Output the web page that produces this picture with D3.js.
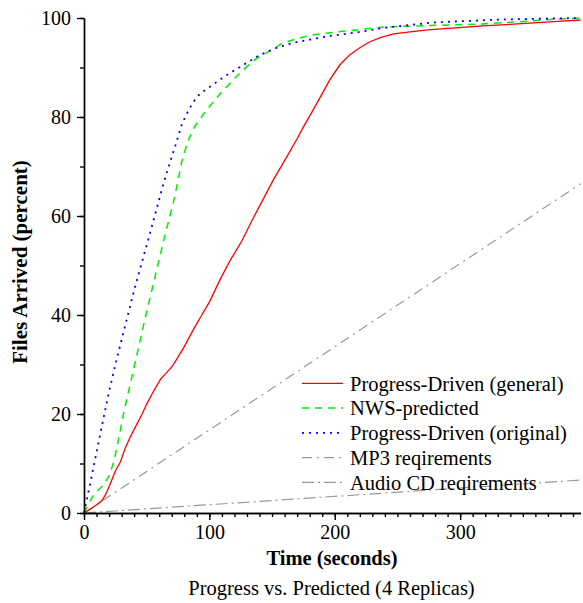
<!DOCTYPE html>
<html>
<head>
<meta charset="utf-8">
<script src="https://cdn.jsdelivr.net/npm/d3@7"></script>
<style>
  html, body { margin: 0; padding: 0; background: #fff; }
  svg { display: block; font-family: "Liberation Serif", "Times New Roman", serif; }
</style>
</head>
<body>
<svg id="chart" width="583" height="603"></svg>
<script>
// Tick values
const xMajorTicks = [0, 100, 200, 300];
const yMajorTicks = [0, 20, 40, 60, 80, 100];

// Series: [time (s), files arrived (%)]
const progressGeneral = [
  [0, 0], [4, 0.6], [8, 1.3], [12, 2.0], [14, 2.4], [17, 3.6], [20, 5.3], [25, 8.5],
  [29, 10.3], [33, 13.2], [37, 15.4], [41, 17.4], [46, 19.8], [50, 22.0], [55, 24.4],
  [61, 27.0], [66, 28.4], [70, 29.5], [74, 31.1], [80, 33.6], [88, 37.4], [93, 39.6],
  [100, 42.6], [109, 47.4], [117, 51.2], [126, 55.0], [133, 58.6], [140, 62.0],
  [151, 67.3], [160, 71.2], [170, 75.6], [175, 78.0], [182, 81.1], [188, 83.8],
  [196, 87.5], [204, 90.5], [212, 92.6], [220, 94.0], [228, 95.2], [237, 96.1],
  [247, 96.8], [260, 97.2], [274, 97.6], [296, 98.0], [318, 98.4], [340, 98.7],
  [358, 99.0], [378, 99.3], [396, 99.6]
];
const nwsPredicted = [
  [0, 0], [4, 2.0], [8, 3.8], [12, 4.8], [16, 5.8], [20, 7.5], [24, 10.5], [28, 15.5],
  [32, 20.6], [40, 29.5], [48, 38.5], [56, 47.0], [64, 55.5], [72, 63.5], [78, 71.0],
  [83, 75.2], [88.6, 78.2], [95.7, 80.7], [102.6, 82.9], [109, 84.8], [116.5, 86.8],
  [122, 88.3], [130, 90.2], [138, 91.9], [148, 93.3], [157, 94.7], [167, 95.6],
  [180, 96.5], [202, 97.2], [218, 97.6], [239, 98.2], [266, 98.4], [292, 98.6],
  [318, 98.8], [345, 99.2], [372, 99.7], [396, 100]
];
const progressOriginal = [
  [0, 0], [2, 2.5], [5, 6.0], [10, 12.3], [15, 18.5], [20, 24.5], [25, 30.0],
  [30, 35.0], [35, 40.0], [40, 45.0], [46, 50.5], [51, 55.0], [56.6, 60.2], [62, 65.3],
  [67.3, 69.8], [72.6, 74.0], [78, 78.5], [82, 80.7], [87, 83.0], [92.5, 84.7],
  [100.5, 86.1], [106, 87.1], [114, 88.5], [127, 90.5], [140, 92.5], [154, 94.0],
  [167, 95.0], [194, 96.3], [218, 97.1], [239, 98.0], [279, 99.1], [332, 99.7],
  [396, 100]
];
const mp3Requirement = [[0, 0], [396, 66.5]];
const audioCdRequirement = [[0, 0], [396, 6.65]];

const legendLabels = [
  "Progress-Driven (general)",
  "NWS-predicted",
  "Progress-Driven (original)",
  "MP3 reqirements",
  "Audio CD reqirements"
];

const svg = d3.select("#chart");

const x = d3.scaleLinear().domain([0, 396]).range([84, 580.5]);
const y = d3.scaleLinear().domain([0, 100]).range([513, 18]);

const styles = [
  { data: progressGeneral, color: "#ff0000", dash: null, width: 1.3 },
  { data: nwsPredicted, color: "#00ee00", dash: "7,6", width: 1.5 },
  { data: progressOriginal, color: "#0000ff", dash: "2,5", width: 1.8 },
  { data: mp3Requirement, color: "#999999", dash: "10,5,2,5", width: 1.2 },
  { data: audioCdRequirement, color: "#999999", dash: "12,4,2,4", width: 1.2 }
];

const line = d3.line().x(d => x(d[0])).y(d => y(d[1]));

// Curves (reference lines beneath)
const drawOrder = [3, 4, 0, 1, 2];
drawOrder.forEach(i => {
  const s = styles[i];
  svg.append("path")
    .datum(s.data)
    .attr("fill", "none")
    .attr("stroke", s.color)
    .attr("stroke-width", s.width)
    .attr("stroke-dasharray", s.dash)
    .attr("d", line);
});

// Axes: minor ticks then major ticks with labels
function styleAxis(g) {
  g.selectAll("path, line").attr("stroke", "#000").attr("stroke-width", 1.4);
  g.selectAll("text").attr("fill", "#000").style("font-size", "20px")
    .style("font-family", '"Liberation Serif", "Times New Roman", serif');
}

svg.append("g").attr("transform", "translate(0,513)")
  .call(d3.axisBottom(x).tickValues(d3.range(0, 391, 10)).tickSize(4).tickSizeOuter(0).tickFormat(""))
  .call(styleAxis);
svg.append("g").attr("transform", "translate(0,513)")
  .call(d3.axisBottom(x).tickValues(xMajorTicks).tickSize(7).tickSizeOuter(0).tickPadding(5))
  .call(styleAxis);

svg.append("g").attr("transform", "translate(84,0)")
  .call(d3.axisLeft(y).tickValues(d3.range(0, 101, 10)).tickSize(4).tickSizeOuter(0).tickFormat(""))
  .call(styleAxis);
svg.append("g").attr("transform", "translate(84,0)")
  .call(d3.axisLeft(y).tickValues(yMajorTicks).tickSize(7).tickSizeOuter(0).tickPadding(6))
  .call(styleAxis);

// Axis titles and caption
svg.append("text")
  .attr("x", 332).attr("y", 565)
  .attr("text-anchor", "middle")
  .style("font-size", "20.5px").style("font-weight", "bold")
  .text("Time (seconds)");

svg.append("text")
  .attr("transform", "translate(27,262) rotate(-90)")
  .attr("text-anchor", "middle")
  .style("font-size", "21px").style("font-weight", "bold")
  .text("Files Arrived (percent)");

svg.append("text")
  .attr("x", 331.5).attr("y", 595)
  .attr("text-anchor", "middle")
  .style("font-size", "20.5px")
  .text("Progress vs. Predicted (4 Replicas)");

// Legend
const legend = svg.append("g");
legendLabels.forEach((label, i) => {
  const s = styles[i];
  const cy = 383.3 + i * 24.75;
  legend.append("line")
    .attr("x1", 302).attr("x2", 343)
    .attr("y1", cy).attr("y2", cy)
    .attr("stroke", s.color)
    .attr("stroke-width", s.width)
    .attr("stroke-dasharray", s.dash);
  legend.append("text")
    .attr("x", 350).attr("y", cy + 7.4)
    .style("font-size", "20.5px")
    .text(label);
});
</script>
</body>
</html>
